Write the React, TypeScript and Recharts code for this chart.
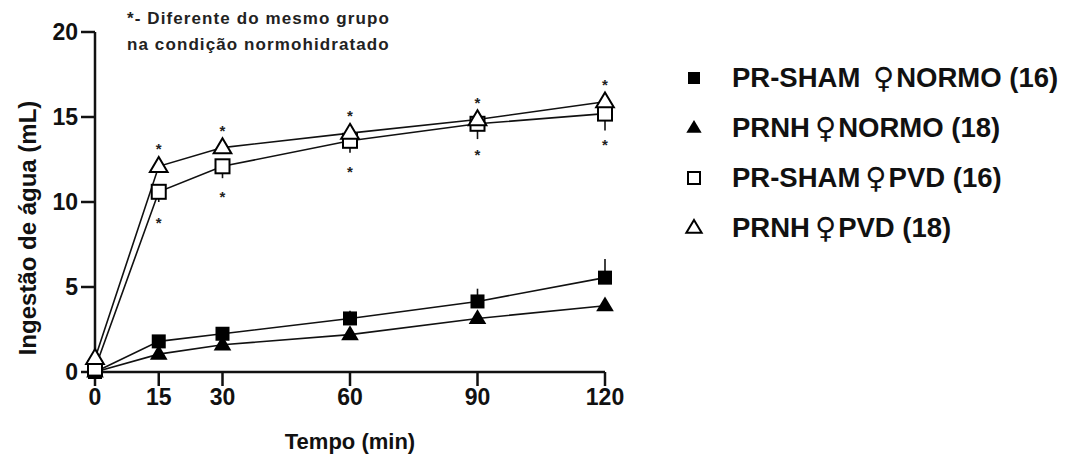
import React from "react";
import { ComposedChart, Line, XAxis, YAxis, ErrorBar, LabelList, Label } from "recharts";

const FONT = "'Liberation Sans', Arial, Helvetica, sans-serif";

// tempo (min)
const TEMPO = [0, 15, 30, 60, 90, 120];
const X_TICKS = [0, 15, 30, 60, 90, 120];
const Y_TICKS = [0, 5, 10, 15, 20];

// ingestão de água (mL), média
const SHAM_NORMO = [0, 1.8, 2.25, 3.15, 4.15, 5.55];
const PRNH_NORMO = [0, 1.05, 1.6, 2.2, 3.15, 3.9];
const SHAM_PVD = [0.2, 10.6, 12.1, 13.6, 14.6, 15.2];
const PRNH_PVD = [0.8, 12.1, 13.2, 14.05, 14.85, 15.9];

// EPM (só o lado visível da barra)
const SHAM_NORMO_EPM = [0, 0.3, 0.3, 0.45, 0.75, 1.1];
const PRNH_NORMO_EPM = [0, 0.2, 0.2, 0.2, 0.25, 0.25];
const SHAM_PVD_EPM = [0, 0.6, 0.7, 0.7, 0.9, 1.0];
const PRNH_PVD_EPM = [0, 0.4, 0.4, 0.4, 0.4, 0.4];

// * diferente do mesmo grupo normohidratado
const SIG = [false, true, true, true, true, true];

const SERIES = [
  { key: "shamN", pre: "PR-SHAM ", post: "NORMO (16)", shape: "square", filled: true },
  { key: "prnhN", pre: "PRNH", post: "NORMO (18)", shape: "triangle", filled: true },
  { key: "shamP", pre: "PR-SHAM", post: "PVD (16)", shape: "square", filled: false },
  { key: "prnhP", pre: "PRNH", post: "PVD (18)", shape: "triangle", filled: false },
];

const data = TEMPO.map((t, i) => ({
  t,
  shamN: SHAM_NORMO[i], shamNErr: [0, SHAM_NORMO_EPM[i]],
  prnhN: PRNH_NORMO[i], prnhNErr: [PRNH_NORMO_EPM[i], 0],
  shamP: SHAM_PVD[i], shamPErr: [SHAM_PVD_EPM[i], 0],
  prnhP: PRNH_PVD[i], prnhPErr: [0, PRNH_PVD_EPM[i]],
}));

function Marker({ cx, cy, shape, filled, s = 13 }: any) {
  const h = s / 2;
  const fill = filled ? "#000" : "#fff";
  const sw = filled ? 0 : 2;
  if (shape === "square")
    return <rect x={cx - h} y={cy - h} width={s} height={s} fill={fill} stroke="#000" strokeWidth={sw} />;
  const r = s * 0.62;
  const pts = `${cx},${cy - r} ${cx + r * 0.95},${cy + r * 0.6} ${cx - r * 0.95},${cy + r * 0.6}`;
  return <polygon points={pts} fill={fill} stroke="#000" strokeWidth={sw} strokeLinejoin="miter" />;
}

const dotFor = (shape: string, filled: boolean) => (p: any) =>
  <Marker key={"d" + p.index} cx={p.cx} cy={p.cy} shape={shape} filled={filled} s={shape === "square" ? 14 : 15} />;

const star = (dy: number) => (p: any) =>
  SIG[p.index] ? (
    <text key={"s" + p.index} x={p.x} y={p.y + dy} textAnchor="middle" fontFamily={FONT} fontWeight={700} fontSize={15} fill="#222">*</text>
  ) : null;

function LegendBox() {
  return (
    <div style={{ position: "absolute", left: 682, top: 53, fontFamily: FONT, fontWeight: 700, fontSize: 27.5, color: "#111" }}>
      {SERIES.map((s) => (
        <div key={s.key} style={{ display: "flex", alignItems: "center", height: 50, whiteSpace: "pre" }}>
          <svg width={24} height={24} style={{ marginRight: 26 }}>
            <Marker cx={12} cy={12} shape={s.shape} filled={s.filled} s={s.shape === "square" ? 12 : 13} />
          </svg>
          <span>{s.pre}</span>
          <span style={{ fontFamily: "'DejaVu Sans', sans-serif", fontWeight: 400, fontSize: 29, margin: "0 2px 0 5px" }}>♀</span>
          <span>{s.post}</span>
        </div>
      ))}
    </div>
  );
}

const YTitle = (p: any) => {
  const vb = p.viewBox || {};
  const cy = vb.y + vb.height / 2 + 26;
  return (
    <text x={27} y={cy} transform={`rotate(-90 27 ${cy})`} textAnchor="middle" dominantBaseline="central"
      fontFamily={FONT} fontWeight={700} fontSize={24} fill="#111">
      Ingestão de água (mL)
    </text>
  );
};

export default function App() {
  const axisTick = { fill: "#111", fontSize: 23, fontWeight: 700, fontFamily: FONT };
  return (
    <div style={{ position: "relative", width: 1076, height: 463, background: "#fff" }}>
      <style>{`body{margin:0}`}</style>
      <div style={{ position: "absolute", left: 127, top: 6, fontFamily: FONT, fontWeight: 700, fontSize: 17, letterSpacing: 1.1, lineHeight: "26px", color: "#222" }}>
        *- Diferente do mesmo grupo<br />na condição normohidratado
      </div>
      <ComposedChart width={1076} height={463} data={data} margin={{ top: 32, right: 471, bottom: 0, left: 0 }}>
        <XAxis
          dataKey="t" type="number" domain={[0, 120]} ticks={X_TICKS}
          stroke="#111" strokeWidth={2.5} tickSize={14} tickMargin={3} tick={axisTick} height={91}
          tickLine={{ stroke: "#111", strokeWidth: 2.5 }}
        >
          <Label value="Tempo (min)" position="insideBottom" offset={14} style={{ fontSize: 22, fontWeight: 700, fontFamily: FONT, fill: "#111" }} />
        </XAxis>
        <YAxis
          type="number" domain={[0, 20]} ticks={Y_TICKS}
          stroke="#111" strokeWidth={2.5} tickSize={14} tickMargin={3} tick={axisTick} width={95}
          tickLine={{ stroke: "#111", strokeWidth: 2.5 }}
        >
          <Label content={YTitle} />
        </YAxis>

        <Line dataKey="shamN" stroke="#111" strokeWidth={1.6} isAnimationActive={false} dot={dotFor("square", true)} activeDot={false}>
          <ErrorBar dataKey="shamNErr" width={0} stroke="#111" strokeWidth={1.6} direction="y" />
        </Line>
        <Line dataKey="prnhN" stroke="#111" strokeWidth={1.6} isAnimationActive={false} dot={dotFor("triangle", true)} activeDot={false}>
          <ErrorBar dataKey="prnhNErr" width={0} stroke="#111" strokeWidth={1.6} direction="y" />
        </Line>
        <Line dataKey="shamP" stroke="#111" strokeWidth={1.6} isAnimationActive={false} dot={dotFor("square", false)} activeDot={false}>
          <ErrorBar dataKey="shamPErr" width={0} stroke="#111" strokeWidth={1.6} direction="y" />
          <LabelList dataKey="shamP" content={star(36)} />
        </Line>
        <Line dataKey="prnhP" stroke="#111" strokeWidth={1.6} isAnimationActive={false} dot={dotFor("triangle", false)} activeDot={false}>
          <ErrorBar dataKey="prnhPErr" width={0} stroke="#111" strokeWidth={1.6} direction="y" />
          <LabelList dataKey="prnhP" content={star(-12)} />
        </Line>
      </ComposedChart>
      <LegendBox />
    </div>
  );
}
